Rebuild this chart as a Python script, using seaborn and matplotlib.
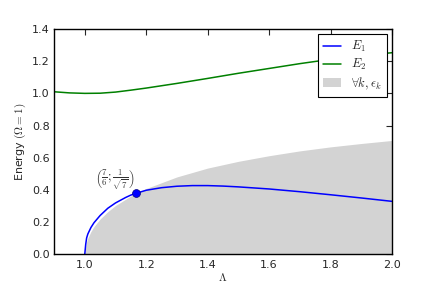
import numpy as np
import pandas as pd
import matplotlib
matplotlib.use('Agg')
import matplotlib.pyplot as plt
import seaborn as sns

# ── Values ────────────────────────────────────────────────────
lam_e1 = [1.0, 1.003, 1.006, 1.01, 1.02, 1.03, 1.05, 1.075, 1.1, 1.133, 1.15,
          1.1667, 1.2, 1.25, 1.3, 1.35, 1.4, 1.45, 1.5, 1.6, 1.7, 1.8, 1.9, 2.0]
e1 = [0.0, 0.06, 0.10, 0.125, 0.165, 0.195, 0.24, 0.285, 0.318, 0.352, 0.367,
      0.378, 0.397, 0.413, 0.422, 0.426, 0.426, 0.423, 0.418, 0.405, 0.388,
      0.369, 0.349, 0.328]

lam_e2 = [0.9, 0.95, 1.0, 1.05, 1.1, 1.15, 1.2, 1.3, 1.4, 1.5, 1.6, 1.7, 1.8, 1.9, 2.0]
e2 = [1.010, 1.003, 1.000, 1.001, 1.008, 1.020, 1.033, 1.062, 1.093, 1.125,
      1.155, 1.185, 1.212, 1.235, 1.253]

lam_band = [1.0, 1.005, 1.01, 1.02, 1.03, 1.05, 1.075, 1.1, 1.15, 1.2, 1.3,
            1.4, 1.5, 1.6, 1.7, 1.8, 1.9, 2.0]
band_top = [0.0, 0.0705, 0.0995, 0.140, 0.171, 0.218, 0.264, 0.302, 0.361,
            0.408, 0.480, 0.535, 0.577, 0.612, 0.642, 0.667, 0.688, 0.707]

point_x = [1.1667]
point_y = [0.378]
point_label = r"$\left(\frac{7}{6};\frac{1}{\sqrt{7}}\right)$"

# ── Style ─────────────────────────────────────────────────────
sns.set_style("white")
plt.rcParams.update({
    "font.family": ["DejaVu Sans"],
    "xtick.direction": "in", "ytick.direction": "in",
    "xtick.top": True, "ytick.right": True,
    "xtick.major.size": 4, "ytick.major.size": 4,
    "xtick.labelsize": 8, "ytick.labelsize": 8,
    "xtick.major.pad": 4, "ytick.major.pad": 3,
    "axes.edgecolor": "black", "axes.linewidth": 1.0,
    "mathtext.fontset": "cm",
})

fig = plt.figure(figsize=(4.36, 2.91), dpi=100)
ax = fig.add_axes([0.124, 0.127, 0.775, 0.773])

df1 = pd.DataFrame({"lam": lam_e1, "E": e1})
df2 = pd.DataFrame({"lam": lam_e2, "E": e2})

ax.fill_between(lam_band, 0, band_top, color="#d3d3d3", linewidth=0,
                label=r"$\forall k, \epsilon_k$")
sns.lineplot(data=df1, x="lam", y="E", ax=ax, color="#0000ff", lw=1.1,
             label=r"$E_1$")
sns.lineplot(data=df2, x="lam", y="E", ax=ax, color="#008000", lw=1.1,
             label=r"$E_2$")
sns.scatterplot(x=point_x, y=point_y, ax=ax, color="#0000ff", s=32,
                edgecolor="#000080", linewidth=0.5, zorder=5)
ax.annotate(point_label, (point_x[0], point_y[0]), xytext=(-1, 0),
            textcoords="offset points", ha="right", va="bottom", fontsize=9,
            color="#333333")

ax.set_xlim(0.9, 2.0)
ax.set_ylim(0.0, 1.4)
ax.set_xticks([1.0, 1.2, 1.4, 1.6, 1.8, 2.0])
ax.set_yticks([0.0, 0.2, 0.4, 0.6, 0.8, 1.0, 1.2, 1.4])
ax.set_xlabel(r"$\Lambda$", fontsize=8)
ax.set_ylabel(r"Energy $(\Omega=1)$", fontsize=8)
ax.yaxis.set_label_coords(-0.077, 0.5)
ax.xaxis.set_label_coords(0.5, -0.075)

handles, labels = ax.get_legend_handles_labels()
order = [labels.index(r"$E_1$"), labels.index(r"$E_2$"),
         labels.index(r"$\forall k, \epsilon_k$")]
leg = ax.legend([handles[i] for i in order], [labels[i] for i in order],
                loc="upper right", fontsize=9, fancybox=False, framealpha=1,
                edgecolor="black", borderaxespad=0.4, handlelength=1.5,
                labelspacing=0.25, borderpad=0.4, handletextpad=0.8)
leg.get_frame().set_linewidth(0.8)

fig.savefig("out.png", dpi=100)
